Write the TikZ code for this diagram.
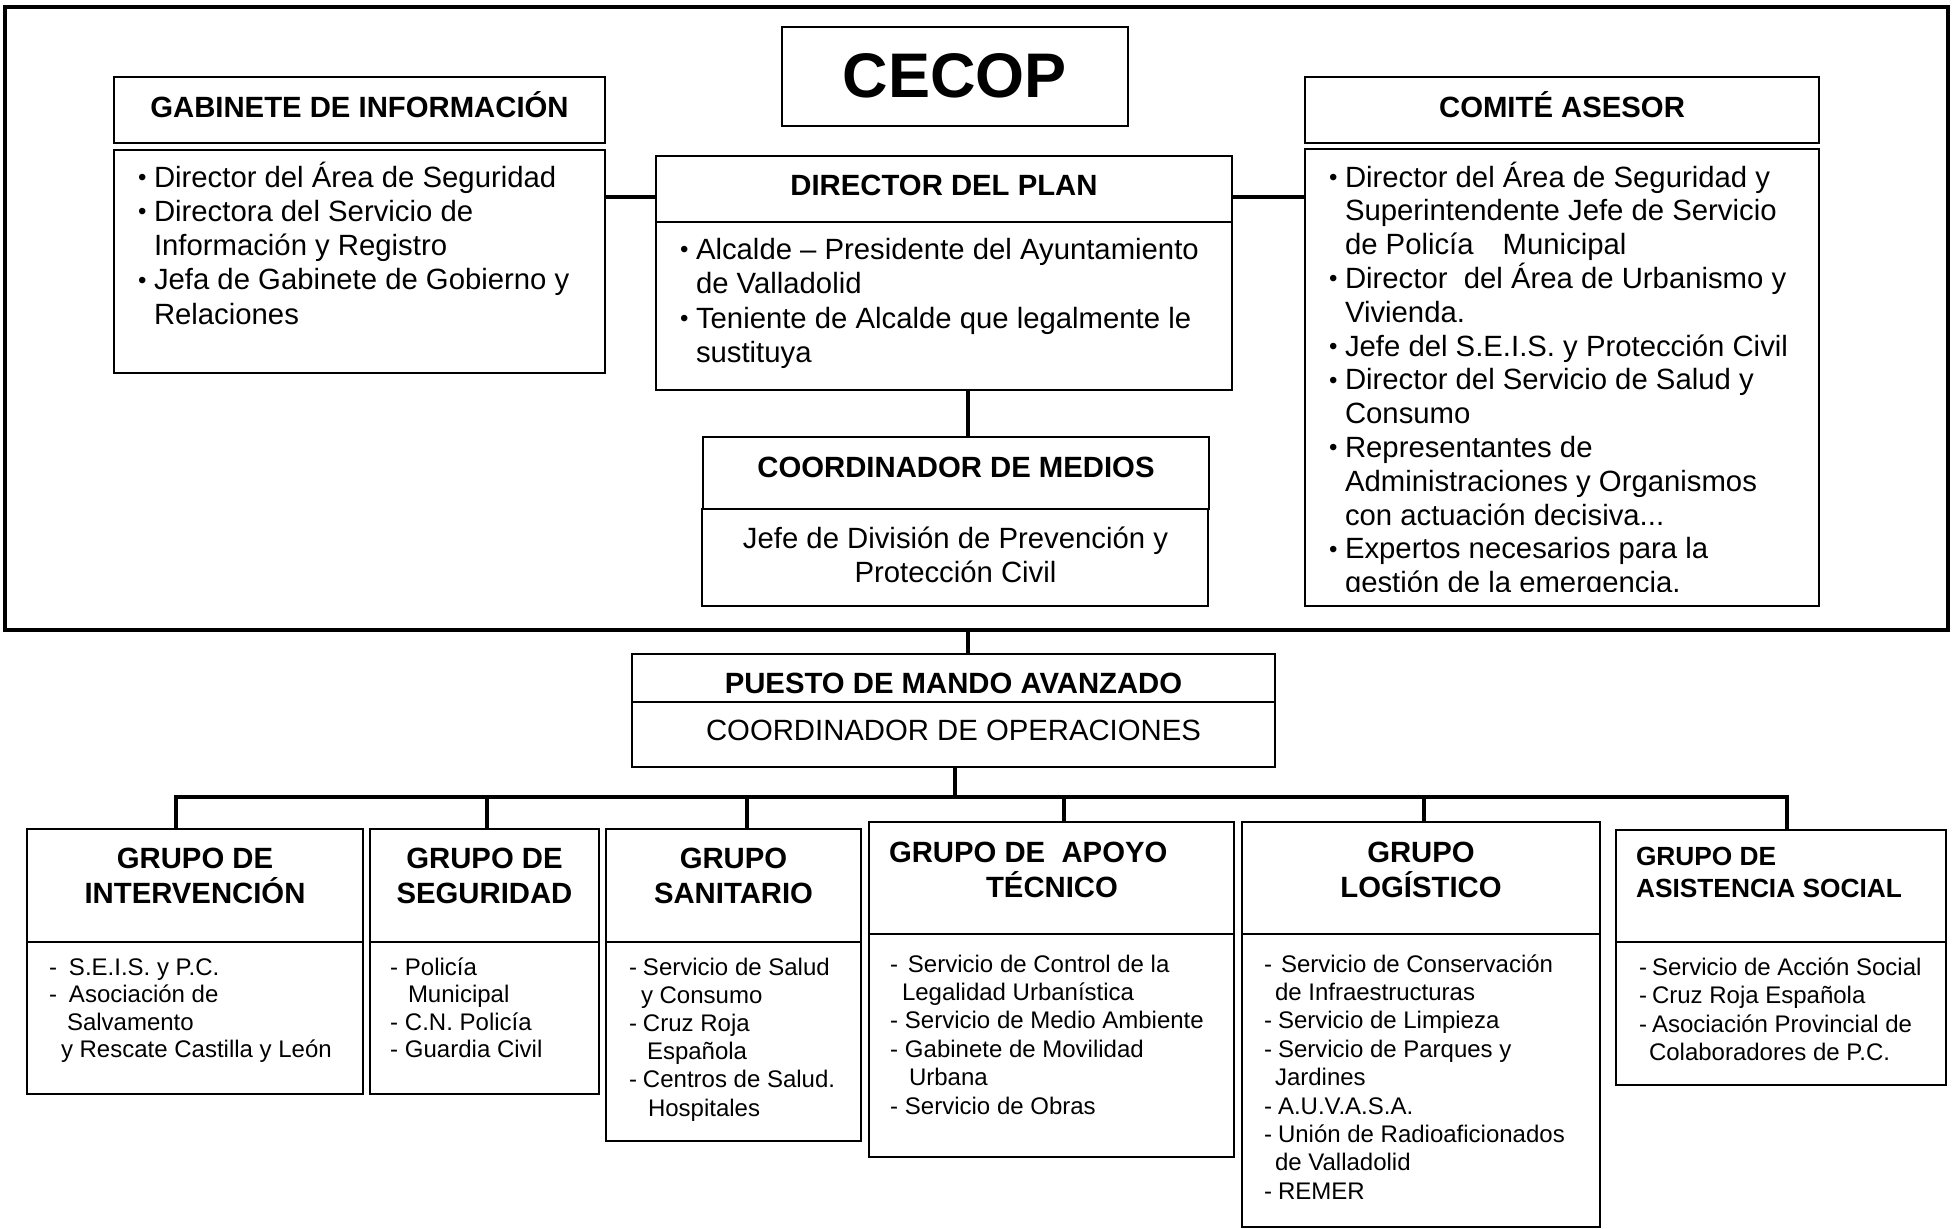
\documentclass[tikz,border=0pt]{standalone}
\usepackage{fontspec}
\setmainfont{Liberation Sans}
\newcommand\mkbox[6][]{\node[box,#1,minimum width={(#5)-(#3)},minimum height={(#6)-(#4)}] (#2) at ({((#3)+(#5))/2},{((#4)+(#6))/2}) {};}
\newcommand\strA{\rule{0pt}{28pt}}
\newcommand\strB{\rule{0pt}{23.5pt}}
\newcommand\mybul{\makebox[16pt][l]{\raisebox{1.5pt}{\fontsize{24}{24}\selectfont\textbullet}}}
\newcommand\mybi{\hspace*{16pt}}
\newcommand\mydash[1]{\makebox[#1pt][l]{-}}
\newcommand\myind[1]{\hspace*{#1pt}}
\begin{document}
\begin{tikzpicture}[x=1pt,y=-1pt,
  box/.style={draw, line width=2pt, inner sep=0pt, outer sep=0pt, rectangle},
  conn/.style={draw, line width=4pt},
  lbl/.style={inner sep=0pt, outer sep=0pt},
  headtxt/.style={lbl, anchor=base, font=\fontsize{29.3}{35}\selectfont\bfseries},
  plaintxt/.style={lbl, anchor=base, font=\fontsize{29.3}{35}\selectfont},
  bodytxt/.style={lbl, anchor=north west, align=left, font=\fontsize{29.3}{34}\selectfont},
  grpbody/.style={lbl, anchor=north west, align=left, font=\fontsize{24}{28.4}\selectfont},
  grphead/.style={lbl, anchor=base, font=\fontsize{29.3}{35}\selectfont\bfseries}]
\useasboundingbox (0,0) rectangle (1952,1229);
\fill[white] (0,0) rectangle (1952,1229);

% ---------- boxes ----------
\mkbox[line width=4.5pt]{frame}{5}{7}{1948}{630}
\mkbox{cecop}{782}{27}{1128}{126}
\mkbox{gabh}{114}{77}{605}{143}
\mkbox{gabb}{114}{150}{605}{373}
\mkbox{dirh}{656}{156}{1232}{222}
\mkbox{dirb}{656}{222}{1232}{390}
\mkbox{comh}{1305}{77}{1819}{143}
\mkbox{comb}{1305}{149}{1819}{606}
\mkbox{coordh}{703}{437}{1209}{509}
\mkbox{coordb}{702}{509}{1208}{606}
\mkbox{pmah}{632}{654}{1275}{702}
\mkbox{pmab}{632}{702}{1275}{767}
\mkbox{g1h}{27}{829}{363}{942}
\mkbox{g1b}{27}{942}{363}{1094}
\mkbox{g2h}{370}{829}{599}{942}
\mkbox{g2b}{370}{942}{599}{1094}
\mkbox{g3h}{606}{829}{861}{942}
\mkbox{g3b}{606}{942}{861}{1141}
\mkbox{g4h}{869}{822}{1234}{934}
\mkbox{g4b}{869}{934}{1234}{1157}
\mkbox{g5h}{1242}{822}{1600}{934}
\mkbox{g5b}{1242}{934}{1600}{1227}
\mkbox{g6h}{1616}{830}{1946}{942}
\mkbox{g6b}{1616}{942}{1946}{1085}

% ---------- connectors ----------
\coordinate (lk) at (0,197);
\coordinate (sp) at (968,0);
\coordinate (bus) at (955,797);
\coordinate (b1) at (176,0);
\coordinate (b2) at (487,0);
\coordinate (b3) at (747,0);
\coordinate (b4) at (1064,0);
\coordinate (b5) at (1424,0);
\coordinate (b6) at (1787,0);
\draw[conn] (gabb.east |- lk) -- (dirh.west |- lk);
\draw[conn] (dirh.east |- lk) -- (comb.west |- lk);
\draw[conn] (dirb.south -| sp) -- (coordh.north -| sp);
\draw[conn] (frame.south -| sp) -- (pmah.north -| sp);
\draw[conn] (pmab.south -| bus) -- (bus);
\draw[conn] (g1h.north -| b1) |- (bus) -| (g6h.north -| b6);
\foreach \b/\g in {b2/g2h,b3/g3h,b4/g4h,b5/g5h}
  \draw[conn] (bus -| \b) -- (\g.north -| \b);

% ---------- top texts ----------
\node[lbl, anchor=base, font=\fontsize{63}{70}\selectfont\bfseries] (tcecop) at (955,97) {CECOP};
\node[headtxt] (tgab) at (359.5,117) {GABINETE DE INFORMACIÓN};
\node[headtxt] (tcom) at (1562,117) {COMITÉ ASESOR};
\node[headtxt] (tdir) at (944,195) {DIRECTOR DEL PLAN};
\node[headtxt] (tcoord) at (956,477) {COORDINADOR DE MEDIOS};
\node[headtxt] (tpma) at (953.5,693) {PUESTO DE MANDO AVANZADO};
\node[plaintxt] (tpmab) at (953.5,740) {COORDINADOR DE OPERACIONES};

\node[bodytxt, font=\fontsize{29.3}{34.25}\selectfont] (gabt) at (138,159) {\strA\mybul Director del Área de Seguridad\\
\mybul Directora del Servicio de\\
\mybi Información y Registro\\
\mybul Jefa de Gabinete de Gobierno y\\
\mybi Relaciones};

\node[bodytxt, font=\fontsize{29.3}{34.5}\selectfont] (dirt) at (680,231) {\strA\mybul Alcalde – Presidente del Ayuntamiento\\
\mybi de Valladolid\\
\mybul Teniente de Alcalde que legalmente le\\
\mybi sustituya};

\begin{scope}
\clip (1300,150) rectangle (1820,591);
\node[bodytxt, font=\fontsize{29.3}{33.8}\selectfont] (comt) at (1329,159) {\strA\mybul Director del Área de Seguridad y\\
\mybi Superintendente Jefe de Servicio\\
\mybi de Policía\hspace{29pt}Municipal\\
\mybul Director\ \ del Área de Urbanismo y\\
\mybi Vivienda.\\
\mybul Jefe del S.E.I.S. y Protección Civil\\
\mybul Director del Servicio de Salud y\\
\mybi Consumo\\
\mybul Representantes de\\
\mybi Administraciones y Organismos\\
\mybi con actuación decisiva...\\
\mybul Expertos necesarios para la\\
\mybi gestión de la emergencia.};
\end{scope}

\node[lbl, anchor=north, align=center, font=\fontsize{29.3}{34}\selectfont] (coordt) at (955.5,520) {\strA Jefe de División de Prevención y\\Protección Civil};

% ---------- group headings ----------
\node[grphead] (g1ta) at (195,868) {GRUPO DE};
\node[grphead] (g1tb) at (195,903) {INTERVENCIÓN};
\node[grphead] (g2ta) at (484.5,868) {GRUPO DE};
\node[grphead] (g2tb) at (484.5,903) {SEGURIDAD};
\node[grphead] (g3ta) at (733.5,868) {GRUPO};
\node[grphead] (g3tb) at (733.5,903) {SANITARIO};
\node[grphead, anchor=base west] (g4ta) at (889,862) {GRUPO DE\ \ APOYO};
\node[grphead] (g4tb) at (1052,897) {TÉCNICO};
\node[grphead] (g5ta) at (1421,862) {GRUPO};
\node[grphead] (g5tb) at (1421,897) {LOGÍSTICO};
\node[grphead, anchor=base west, font=\fontsize{26.3}{32}\selectfont\bfseries] (g6ta) at (1636,865) {GRUPO DE};
\node[grphead, anchor=base west, font=\fontsize{26.3}{32}\selectfont\bfseries] (g6tb) at (1636,897) {ASISTENCIA SOCIAL};

% ---------- group bodies ----------
\node[grpbody, font=\fontsize{24}{27.5}\selectfont] (g1t) at (49,951.5) {\strB\mydash{20}S.E.I.S. y P.C.\\
\mydash{20}Asociación de\\
\myind{18}Salvamento\\
\myind{12}y Rescate Castilla y León};

\node[grpbody, font=\fontsize{24}{27.5}\selectfont] (g2t) at (390,951.5) {\strB\mydash{15}Policía\\
\myind{18}Municipal\\
\mydash{15}C.N. Policía\\
\mydash{15}Guardia Civil};

\node[grpbody, font=\fontsize{24}{28.2}\selectfont] (g3t) at (629,951.5) {\strB\mydash{14}Servicio de Salud\\
\myind{12}y Consumo\\
\mydash{14}Cruz Roja\\
\myind{18}Española\\
\mydash{14}Centros de Salud.\\
\myind{19}Hospitales};

\node[grpbody] (g4t) at (890,948.5) {\strB\mydash{18}Servicio de Control de la\\
\myind{12}Legalidad Urbanística\\
\mydash{15}Servicio de Medio Ambiente\\
\mydash{15}Gabinete de Movilidad\\
\myind{19}Urbana\\
\mydash{15}Servicio de Obras};

\node[grpbody] (g5t) at (1264,948.5) {\strB\mydash{17}Servicio de Conservación\\
\myind{11}de Infraestructuras\\
\mydash{14}Servicio de Limpieza\\
\mydash{14}Servicio de Parques y\\
\myind{11}Jardines\\
\mydash{14}A.U.V.A.S.A.\\
\mydash{14}Unión de Radioaficionados\\
\myind{11}de Valladolid\\
\mydash{14}REMER};

\node[grpbody, font=\fontsize{24}{28.6}\selectfont] (g6t) at (1639,951.5) {\strB\mydash{13}Servicio de Acción Social\\
\mydash{13}Cruz Roja Española\\
\mydash{13}Asociación Provincial de\\
\myind{10}Colaboradores de P.C.};
\end{tikzpicture}
\end{document}
